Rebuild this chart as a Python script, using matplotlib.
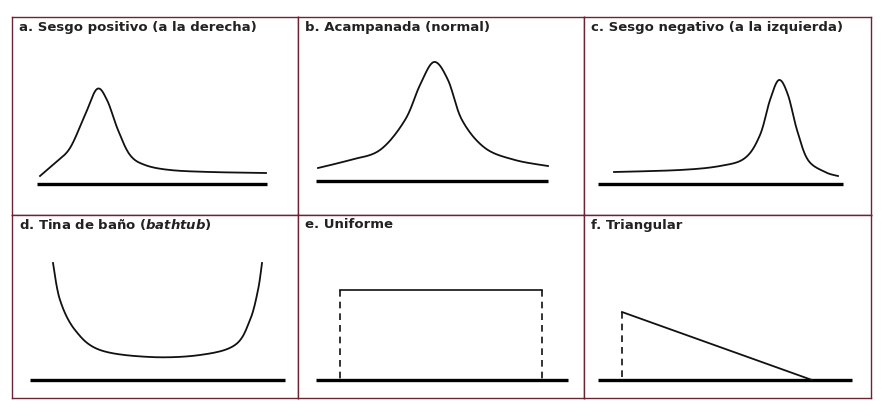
import matplotlib
matplotlib.use("Agg")
import matplotlib.pyplot as plt
from matplotlib import font_manager
import numpy as np

W, H = 892, 419
titles = ["a. Sesgo positivo (a la derecha)", "b. Acampanada (normal)",
          "c. Sesgo negativo (a la izquierda)", r"d. Tina de baño ($\mathit{bathtub}$)",
          "e. Uniforme", "f. Triangular"]

# panel-local pixel coordinates (y measured downward from panel top)
a_x = [28, 43, 58, 73, 85, 95, 106, 118, 133, 158, 198, 254]
a_y = [159, 146, 131, 98, 72, 83, 113, 138, 148, 153, 155, 156]
b_x = [20, 52, 82, 107, 122, 136, 150, 164, 187, 217, 250]
b_y = [151, 143, 133, 103, 68, 45, 63, 103, 131, 143, 149]
c_x = [30, 96, 136, 161, 176, 186, 195, 204, 213, 224, 241, 254]
c_y = [155, 153, 149, 141, 118, 83, 63, 78, 113, 143, 155, 159]
d_x = [41, 48, 63, 88, 138, 188, 223, 238, 246, 250]
d_y = [48, 85, 115, 135, 142, 140, 130, 105, 75, 48]
e_x = [42, 244]
e_top = 75
f_x = [38, 228]
f_y = [97, 165]
base = [(25, 255, 167), (18, 250, 164), (14, 259, 167),
        (18, 273, 165), (18, 270, 165), (14, 268, 165)]

xs_div = [12, 298, 584, 871]
ys_div = [17, 215, 398]

fams = {f.name for f in font_manager.fontManager.ttflist}
fam = "Liberation Sans Narrow" if "Liberation Sans Narrow" in fams else "DejaVu Sans"
plt.rcParams["mathtext.fontset"] = "custom"
plt.rcParams["mathtext.it"] = fam + ":italic:bold"
plt.rcParams["mathtext.rm"] = fam + ":bold"


def smooth(x, y, n=20):
    """Catmull-Rom curve through the given points (for drawing only)."""
    p = np.column_stack([x, y]).astype(float)
    p = np.vstack([p[0], p, p[-1]])
    out = []
    t = np.linspace(0, 1, n, endpoint=False)[:, None]
    for i in range(1, len(p) - 2):
        p0, p1, p2, p3 = p[i - 1], p[i], p[i + 1], p[i + 2]
        out.append(0.5 * ((2 * p1) + (-p0 + p2) * t + (2 * p0 - 5 * p1 + 4 * p2 - p3) * t ** 2
                          + (-p0 + 3 * p1 - 3 * p2 + p3) * t ** 3))
    out.append(p[-2][None, :])
    o = np.vstack(out)
    return o[:, 0], o[:, 1]


fig = plt.figure(figsize=(W / 100, H / 100), dpi=100)
border = "#6b2434"
curves = [(a_x, a_y), (b_x, b_y), (c_x, c_y), (d_x, d_y)]

for k in range(6):
    r, c = divmod(k, 3)
    x0, x1 = xs_div[c], xs_div[c + 1]
    y0, y1 = ys_div[r], ys_div[r + 1]
    pw, ph = x1 - x0, y1 - y0
    ax = fig.add_axes([x0 / W, 1 - y1 / H, pw / W, ph / H])
    ax.set_xlim(0, pw)
    ax.set_ylim(ph, 0)
    ax.set_xticks([]); ax.set_yticks([])
    for s in ax.spines.values():
        s.set_color(border); s.set_linewidth(1.0)
    ax.text(7, 10, titles[k], fontsize=9.5, fontweight="bold", family=fam,
            color="#222222", va="center", ha="left")
    bx0, bx1, by = base[k]
    ax.plot([bx0, bx1], [by, by], color="black", lw=2.4, solid_capstyle="butt")
    if k < 4:
        sx, sy = smooth(*curves[k])
        ax.plot(sx, sy, color="#111111", lw=1.3)
    elif k == 4:
        ax.plot(e_x, [e_top, e_top], color="#111111", lw=1.2)
        for xv in e_x:
            ax.plot([xv, xv], [e_top, base[k][2]], color="#111111", lw=1.2, ls=(0, (4, 3)))
    else:
        ax.plot(f_x, f_y, color="#111111", lw=1.3)
        ax.plot([f_x[0], f_x[0]], [f_y[0], base[k][2]], color="#111111", lw=1.2, ls=(0, (4, 3)))

fig.savefig("out.png", dpi=100)
